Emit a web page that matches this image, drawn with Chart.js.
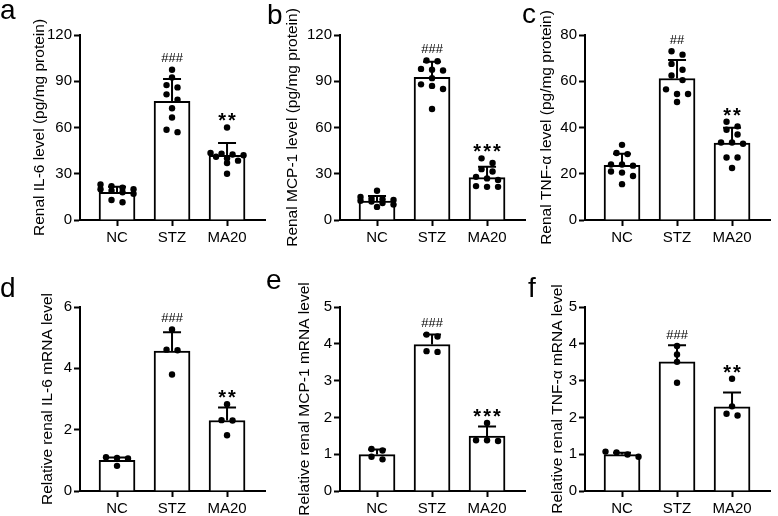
<!DOCTYPE html>
<html>
<head>
<meta charset="utf-8">
<script src="https://cdn.jsdelivr.net/npm/chart.js"></script>
<style>
  body { margin: 0; background: #fff; }
  #fig { position: relative; width: 778px; height: 516px; overflow: hidden; }
  #fig canvas { position: absolute; }
</style>
</head>
<body>
<div id="fig"></div>
<script>
var groups = ['NC', 'STZ', 'MA20'];

// a - renal IL-6 (pg/mg protein)
var il6Ticks = [0, 30, 60, 90, 120];
var il6Mean = [18, 77, 42];
var il6Sd = [3.5, 14.4, 8];
var il6NC = [23, 22, 21, 20, 20, 19, 18, 17, 13, 11.5];
var il6STZ = [97.5, 92.5, 87.5, 86, 81.5, 78, 72.5, 66.5, 58.5, 57];
var il6MA20 = [60, 43.5, 43, 42.5, 42, 41, 40, 38.5, 37, 30];

// b - renal MCP-1 (pg/mg protein)
var mcpTicks = [0, 30, 60, 90, 120];
var mcpMean = [12.3, 92.5, 27.5];
var mcpSd = [3.3, 10.2, 7];
var mcpNC = [19, 15, 14, 13.5, 13, 12.5, 12, 11, 10, 8.5];
var mcpSTZ = [103.5, 103, 98, 97.5, 97, 92, 88, 87, 85, 72];
var mcpMA20 = [40, 37, 33, 31.5, 28, 27, 26, 22, 21.5, 21.5];

// c - renal TNF-a (pg/mg protein)
var tnfTicks = [0, 20, 40, 60, 80];
var tnfMean = [23.6, 61.2, 33.3];
var tnfSd = [5.1, 8, 6.6];
var tnfNC = [32.5, 29, 28.5, 24, 24, 23.5, 21, 20.5, 19, 15.5];
var tnfSTZ = [73, 71.5, 67.5, 65, 62.5, 60.5, 56.5, 54.5, 54.5, 51];
var tnfMA20 = [42.5, 40.5, 39, 37, 33.5, 33.5, 33, 27, 27, 22.5];

// d - IL-6 mRNA
var il6mTicks = [0, 2, 4, 6];
var il6mMean = [1.0, 4.56, 2.3];
var il6mSd = [0.09, 0.62, 0.42];
var il6mNC = [1.1, 1.08, 1.06, 0.82];
var il6mSTZ = [5.27, 4.61, 4.59, 3.8];
var il6mMA20 = [2.83, 2.31, 2.3, 1.82];

// e - MCP-1 mRNA
var mcpmTicks = [0, 1, 2, 3, 4, 5];
var mcpmMean = [0.99, 3.98, 1.49];
var mcpmSd = [0.14, 0.27, 0.26];
var mcpmNC = [1.14, 1.1, 0.93, 0.86];
var mcpmSTZ = [4.25, 4.2, 3.8, 3.78];
var mcpmMA20 = [1.85, 1.38, 1.38, 1.36];

// f - TNF-a mRNA
var tnfmTicks = [0, 1, 2, 3, 4, 5];
var tnfmMean = [0.99, 3.51, 2.29];
var tnfmSd = [0.05, 0.45, 0.39];
var tnfmNC = [1.07, 1.05, 0.99, 0.93];
var tnfmSTZ = [3.94, 3.71, 3.51, 2.94];
var tnfmMA20 = [3.05, 2.3, 2.1, 2.05];

var FONT = "'Liberation Sans', Arial, sans-serif";
Chart.defaults.font.family = FONT;
Chart.defaults.color = '#000';

var fig = document.getElementById('fig');

// spread points of similar value side by side (like prism scatter)
function swarm(vals, yMax) {
  var s = vals.slice().sort(function (a, b) { return b - a; });
  var out = [], row = [];
  function flush() {
    row.forEach(function (v, k) { out.push({ y: v, dx: (k - (row.length - 1) / 2) * 0.2 }); });
    row = [];
  }
  s.forEach(function (v) {
    if (row.length && ((row[0] - v) * 185 / yMax > 6 || row.length >= 4)) flush();
    row.push(v);
  });
  flush();
  return out;
}

function panel(p) {
  var box = p.box;
  var c = document.createElement('canvas');
  c.width = box[2]; c.height = box[3];
  c.style.left = box[0] + 'px'; c.style.top = box[1] + 'px';
  fig.appendChild(c);

  var yMax = p.ticks[p.ticks.length - 1];
  var pts = [];
  p.points.forEach(function (vals, i) {
    swarm(vals, yMax).forEach(function (q) { pts.push({ x: i + q.dx, y: q.y }); });
  });

  var decor = {
    id: 'decor',
    afterDatasetsDraw: function (chart) {
      var ctx = chart.ctx, xs = chart.scales.x, ys = chart.scales.y;
      ctx.save();
      ctx.strokeStyle = '#000';
      ctx.fillStyle = '#000';
      ctx.lineWidth = 2;
      p.mean.forEach(function (m, i) {
        var x = xs.getPixelForValue(i);
        var yb = ys.getPixelForValue(m);
        var yt = ys.getPixelForValue(m + p.sd[i]);
        ctx.beginPath();
        ctx.moveTo(x, yb); ctx.lineTo(x, yt);
        ctx.moveTo(x - 9, yt); ctx.lineTo(x + 9, yt);
        ctx.stroke();
        var mark = p.marks[i];
        if (!mark) return;
        var top = Math.min(yt, ys.getPixelForValue(Math.max.apply(null, p.points[i])) - 3.2);
        ctx.textAlign = 'center';
        ctx.textBaseline = 'alphabetic';
        if (mark.charAt(0) === '#') {
          ctx.font = '13px ' + FONT;
          ctx.fillText(mark, x, top - 4);
        } else {
          ctx.font = 'bold 20px ' + FONT;
          ctx.letterSpacing = '2px';
          ctx.fillText(mark, x + 1, top + 3);
          ctx.letterSpacing = '0px';
        }
      });
      ctx.textAlign = 'left';
      ctx.font = '28px ' + FONT;
      ctx.fillText(p.letter, p.letterPos[0] - box[0], p.letterPos[1] - box[1]);
      ctx.restore();
    }
  };

  new Chart(c, {
    type: 'bar',
    data: {
      datasets: [
        { type: 'scatter', data: pts, pointRadius: 3.2, pointBackgroundColor: '#000',
          pointBorderWidth: 0, order: 1 },
        { type: 'bar', data: p.mean.map(function (m, i) { return { x: i, y: m }; }),
          backgroundColor: '#fff', borderColor: '#000', borderWidth: 2,
          barThickness: 36, borderSkipped: 'bottom', order: 2 }
      ]
    },
    options: {
      responsive: false,
      animation: false,
      devicePixelRatio: 1,
      layout: { padding: { left: 0, bottom: 0, top: p.plotTop - box[1], right: box[0] + box[2] - p.axisEnd } },
      plugins: { legend: { display: false }, tooltip: { enabled: false } },
      scales: {
        x: {
          type: 'linear', min: -0.673, max: 2.69, offset: false,
          afterBuildTicks: function (s) { s.ticks = groups.map(function (g, i) { return { value: i }; }); },
          ticks: { callback: function (v) { return groups[v]; }, font: { size: 15 }, padding: 3,
                   autoSkip: false, maxRotation: 0, color: '#000' },
          grid: { offset: false, drawOnChartArea: false, tickLength: 6, tickColor: '#000', tickWidth: 2 },
          border: { color: '#000', width: 2 },
          afterFit: function (s) { s.height = box[1] + box[3] - p.plotBottom; }
        },
        y: {
          min: 0, max: yMax,
          afterBuildTicks: function (s) { s.ticks = p.ticks.map(function (v) { return { value: v }; }); },
          ticks: { font: { size: 15 }, padding: 2, color: '#000' },
          grid: { drawOnChartArea: false, tickLength: 6, tickColor: '#000', tickWidth: 2 },
          border: { color: '#000', width: 2 },
          title: { display: true, text: p.title, color: '#000', font: { size: 15.5 },
                   padding: { top: p.titleX - box[0] - 9.3, bottom: 0 } },
          afterFit: function (s) { s.width = p.axisX - box[0]; }
        }
      }
    },
    plugins: [decor]
  });
}

panel({ letter: 'a', letterPos: [0, 19], box: [0, 0, 270, 258], axisX: 80, axisEnd: 265, plotTop: 35, plotBottom: 220, titleX: 40,
  title: 'Renal IL-6 level (pg/mg protein)', ticks: il6Ticks, mean: il6Mean, sd: il6Sd,
  points: [il6NC, il6STZ, il6MA20], marks: ['', '###', '**'] });
panel({ letter: 'b', letterPos: [267, 24], box: [255, 0, 275, 258], axisX: 340, axisEnd: 525, plotTop: 35, plotBottom: 220, titleX: 293,
  title: 'Renal MCP-1 level (pg/mg protein)', ticks: mcpTicks, mean: mcpMean, sd: mcpSd,
  points: [mcpNC, mcpSTZ, mcpMA20], marks: ['', '###', '***'] });
panel({ letter: 'c', letterPos: [522, 23], box: [510, 0, 268, 258], axisX: 585, axisEnd: 770, plotTop: 35, plotBottom: 220, titleX: 547,
  title: 'Renal TNF-α level (pg/mg protein)', ticks: tnfTicks, mean: tnfMean, sd: tnfSd,
  points: [tnfNC, tnfSTZ, tnfMA20], marks: ['', '##', '**'] });
panel({ letter: 'd', letterPos: [0, 297], box: [0, 258, 270, 258], axisX: 80, axisEnd: 265, plotTop: 307, plotBottom: 491, titleX: 48,
  title: 'Relative renal IL-6 mRNA level', ticks: il6mTicks, mean: il6mMean, sd: il6mSd,
  points: [il6mNC, il6mSTZ, il6mMA20], marks: ['', '###', '**'] });
panel({ letter: 'e', letterPos: [266, 289], box: [255, 258, 275, 258], axisX: 340, axisEnd: 525, plotTop: 307, plotBottom: 491, titleX: 305,
  title: 'Relative renal MCP-1 mRNA level', ticks: mcpmTicks, mean: mcpmMean, sd: mcpmSd,
  points: [mcpmNC, mcpmSTZ, mcpmMA20], marks: ['', '###', '***'] });
panel({ letter: 'f', letterPos: [528, 297], box: [510, 258, 268, 258], axisX: 585, axisEnd: 770, plotTop: 307, plotBottom: 491, titleX: 558,
  title: 'Relative renal TNF-α mRNA level', ticks: tnfmTicks, mean: tnfmMean, sd: tnfmSd,
  points: [tnfmNC, tnfmSTZ, tnfmMA20], marks: ['', '###', '**'] });
</script>
</body>
</html>
